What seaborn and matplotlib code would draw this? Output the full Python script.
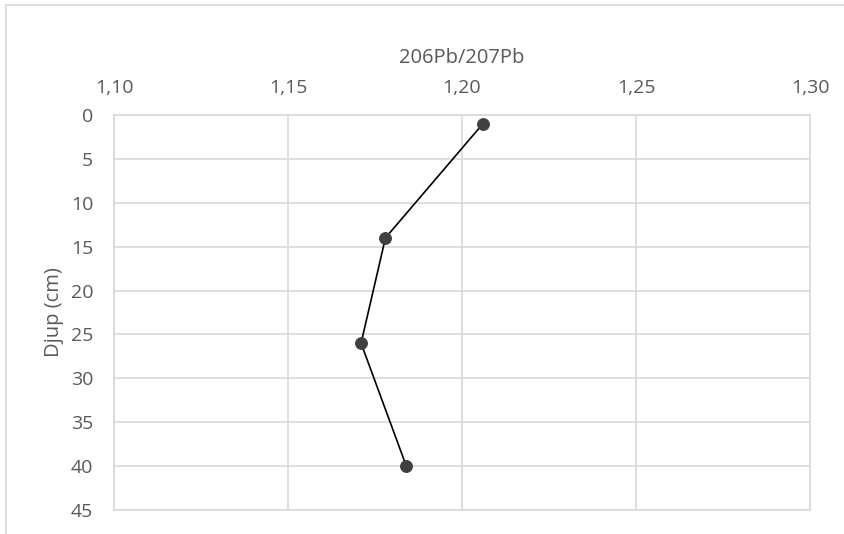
import matplotlib
matplotlib.use("Agg")
import matplotlib.pyplot as plt
import matplotlib.ticker as mticker
import pandas as pd
import seaborn as sns

# Pb isotope ratio by depth
depth_cm = [1, 14, 26, 40]
pb_ratio = [1.206, 1.178, 1.171, 1.184]

x_ticks = [1.10, 1.15, 1.20, 1.25, 1.30]
y_ticks = [0, 5, 10, 15, 20, 25, 30, 35, 40, 45]

TEXT = "#595959"
GRID = "#d9d9d9"

sns.set_theme(style="white")
plt.rcParams["font.family"] = ["Open Sans", "DejaVu Sans"]

df = pd.DataFrame({"ratio": pb_ratio, "depth": depth_cm})

fig = plt.figure(figsize=(8.44, 5.34), dpi=100)
ax = fig.add_axes([114 / 844, 1 - 510 / 534, (810 - 114) / 844, (510 - 115) / 534])

sns.lineplot(data=df, x="ratio", y="depth", sort=False, ax=ax,
             color="black", linewidth=1.2, marker="o", markersize=8.5,
             markerfacecolor="#404040", markeredgecolor="#404040")

ax.set_xlim(1.10, 1.30)
ax.set_ylim(45, 0)
ax.set_xticks(x_ticks)
ax.set_yticks(y_ticks)
ax.xaxis.set_major_formatter(mticker.FuncFormatter(lambda v, p: f"{v:.2f}".replace(".", ",")))
ax.xaxis.tick_top()
ax.tick_params(axis="x", length=0, pad=13, labelsize=14, labelcolor=TEXT)
ax.tick_params(axis="y", length=0, pad=15, labelsize=14, labelcolor=TEXT)
ax.grid(True, color=GRID, linewidth=1.2)
ax.set_axisbelow(True)
for s in ax.spines.values():
    s.set_color(GRID)
    s.set_linewidth(1.2)

ax.set_xlabel("")
ax.set_ylabel("Djup (cm)", fontsize=14.5, color=TEXT, labelpad=5)
fig.text((114 + 810) / 2 / 844, 1 - 63 / 534, "206Pb/207Pb", ha="center", va="baseline",
         fontsize=14.5, color=TEXT)

# outer chart border (only left/top visible in the crop)
border = plt.Rectangle((6 / 844, -0.1), 1.2, 1 - 5 / 534 + 0.1, transform=fig.transFigure,
                       fill=False, edgecolor=GRID, linewidth=1.2, clip_on=False)
fig.patches.append(border)

fig.savefig("out.png", dpi=100)
